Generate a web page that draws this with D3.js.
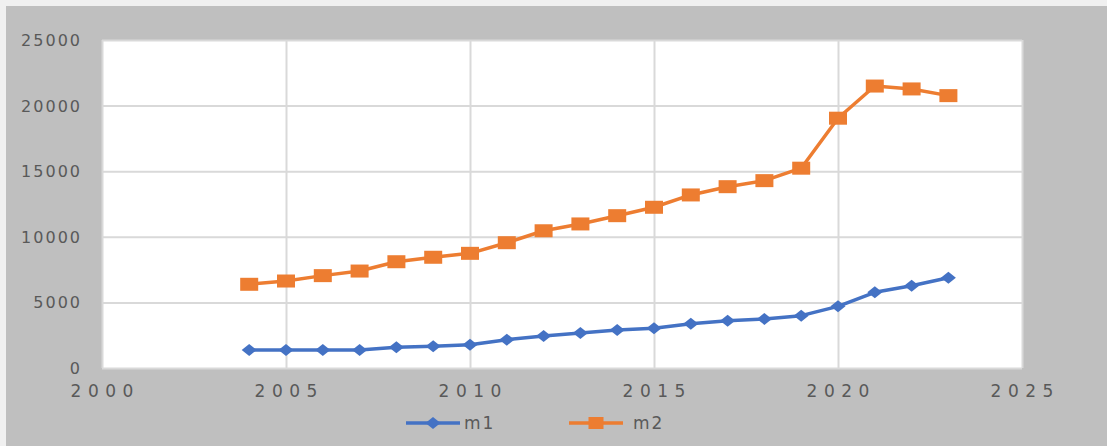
<!DOCTYPE html>
<html>
<head>
<meta charset="utf-8">
<script src="https://cdn.jsdelivr.net/npm/d3@7"></script>
<style>
  body { margin: 0; background: #f0f0f0; }
  svg { display: block; }
  text { font-family: "DejaVu Sans", sans-serif; fill: #595959; }
</style>
</head>
<body>
<svg></svg>
<script>
const width = 1107;
const height = 446;

const years = [2004, 2005, 2006, 2007, 2008, 2009, 2010, 2011, 2012, 2013,
               2014, 2015, 2016, 2017, 2018, 2019, 2020, 2021, 2022, 2023];
const m1 = [1370, 1370, 1370, 1370, 1580, 1650, 1780, 2160, 2440, 2670,
            2900, 3030, 3380, 3600, 3740, 3990, 4700, 5770, 6270, 6880];
const m2 = [6380, 6630, 7040, 7390, 8100, 8440, 8740, 9550, 10460, 10980,
            11610, 12250, 13190, 13820, 14280, 15230, 19040, 21490, 21270, 20760];
const xTicks = [2000, 2005, 2010, 2015, 2020, 2025];
const yTicks = [0, 5000, 10000, 15000, 20000, 25000];
const seriesNames = ['m1', 'm2'];

const blue = '#4472C4';
const orange = '#ED7D31';

const plot = { left: 102, right: 1022, top: 40, bottom: 368 };

const svg = d3.select('svg')
    .attr('width', width)
    .attr('height', height);

// outer chart area (light strip on top/left)
svg.append('rect')
    .attr('x', 6).attr('y', 6)
    .attr('width', width - 6).attr('height', height - 6)
    .attr('fill', '#bfbfbf');

const x = d3.scaleLinear().domain([2000, 2025]).range([plot.left, plot.right]);
const y = d3.scaleLinear().domain([0, 25000]).range([plot.bottom, plot.top]);

svg.append('rect')
    .attr('x', plot.left).attr('y', plot.top)
    .attr('width', plot.right - plot.left).attr('height', plot.bottom - plot.top)
    .attr('fill', '#fff');

// gridlines
svg.append('g')
    .attr('transform', `translate(0,${plot.bottom})`)
    .call(d3.axisBottom(x).tickValues(xTicks).tickSize(-(plot.bottom - plot.top)).tickFormat(''))
    .call(g => g.select('.domain').remove())
    .call(g => g.selectAll('line').attr('stroke', '#d9d9d9').attr('stroke-width', 2));

svg.append('g')
    .attr('transform', `translate(${plot.left},0)`)
    .call(d3.axisLeft(y).tickValues(yTicks).tickSize(-(plot.right - plot.left)).tickFormat(''))
    .call(g => g.select('.domain').remove())
    .call(g => g.selectAll('line').attr('stroke', '#d9d9d9').attr('stroke-width', 2));

// tick labels
svg.append('g')
    .selectAll('text')
    .data(yTicks)
    .enter().append('text')
    .attr('x', 80 + 2)
    .attr('y', d => y(d) + 6)
    .attr('text-anchor', 'end')
    .style('font-size', '16px')
    .style('letter-spacing', '2px')
    .text(d => d);

svg.append('g')
    .selectAll('text')
    .data(xTicks)
    .enter().append('text')
    .attr('x', d => x(d) + 3.25)
    .attr('y', 397)
    .attr('text-anchor', 'middle')
    .style('font-size', '17px')
    .style('letter-spacing', '6.5px')
    .text(d => d);

// lines
const line = d3.line().x((d, i) => x(years[i])).y(d => y(d));

svg.append('path').datum(m1)
    .attr('d', line)
    .attr('fill', 'none')
    .attr('stroke', blue)
    .attr('stroke-width', 3.5)
    .attr('stroke-linejoin', 'round');

svg.append('path').datum(m2)
    .attr('d', line)
    .attr('fill', 'none')
    .attr('stroke', orange)
    .attr('stroke-width', 3.5)
    .attr('stroke-linejoin', 'round');

const diamond = (cx, cy) => `M${cx - 7.5},${cy}L${cx},${cy - 6}L${cx + 7.5},${cy}L${cx},${cy + 6}Z`;

svg.append('g').selectAll('path')
    .data(m1)
    .enter().append('path')
    .attr('d', (d, i) => diamond(x(years[i]), y(d)))
    .attr('fill', blue);

svg.append('g').selectAll('rect')
    .data(m2)
    .enter().append('rect')
    .attr('x', (d, i) => x(years[i]) - 9)
    .attr('y', d => y(d) - 6.5)
    .attr('width', 18)
    .attr('height', 13)
    .attr('fill', orange);

// legend
const legendY = 423;
const legend = svg.append('g');

legend.append('line')
    .attr('x1', 406).attr('x2', 460).attr('y1', legendY).attr('y2', legendY)
    .attr('stroke', blue).attr('stroke-width', 3.5);
legend.append('path')
    .attr('d', diamond(433, legendY))
    .attr('fill', blue);
legend.append('text')
    .attr('x', 464).attr('y', legendY + 6)
    .style('font-size', '17px')
    .style('letter-spacing', '2px')
    .text(seriesNames[0]);

legend.append('line')
    .attr('x1', 569).attr('x2', 623).attr('y1', legendY).attr('y2', legendY)
    .attr('stroke', orange).attr('stroke-width', 3.5);
legend.append('rect')
    .attr('x', 596 - 7.5).attr('y', legendY - 6)
    .attr('width', 15).attr('height', 12)
    .attr('fill', orange);
legend.append('text')
    .attr('x', 633).attr('y', legendY + 6)
    .style('font-size', '17px')
    .style('letter-spacing', '2px')
    .text(seriesNames[1]);
</script>
</body>
</html>
